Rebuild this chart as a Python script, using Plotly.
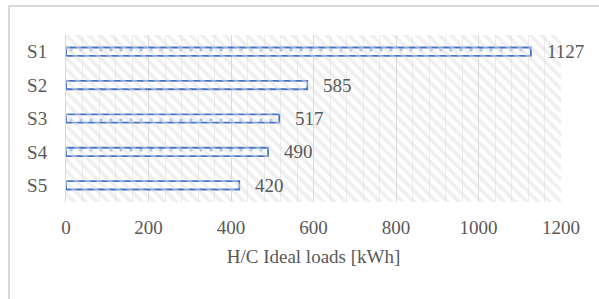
import plotly.graph_objects as go

categories = ["S1", "S2", "S3", "S4", "S5"]
values = [1127, 585, 517, 490, 420]
x_ticks = [0, 200, 400, 600, 800, 1000, 1200]
x_title = "H/C Ideal loads [kWh]"

FONT = "Liberation Serif, Times New Roman, serif"
TXT = "#595959"
xmax = 1200
idx = list(range(len(categories)))
ylo, yhi = -0.5, len(categories) - 0.5

fig = go.Figure()

# hatched plot-area background
fig.add_trace(go.Scatter(
    x=[0, xmax, xmax, 0, 0], y=[ylo, ylo, yhi, yhi, ylo],
    mode="lines", line=dict(width=0), fill="toself",
    fillcolor="rgba(255,255,255,0)",
    fillpattern=dict(shape="\\", fgcolor="#e0e0e0", bgcolor="rgba(255,255,255,0)",
                     size=8, solidity=0.45),
    hoverinfo="skip", showlegend=False))

fig.add_trace(go.Bar(
    x=values, y=idx, orientation="h", width=0.25,
    marker=dict(color="white",
                line=dict(color="#4472C4", width=1.8),
                pattern=dict(shape=".", fgcolor="#a9c6ea", bgcolor="white",
                             size=10, solidity=0.1, fillmode="replace")),
    showlegend=False))

for v, i in zip(values, idx):
    fig.add_annotation(x=v, y=i, text=str(v), showarrow=False, xanchor="left",
                       xshift=14, font=dict(family=FONT, size=19, color=TXT))

fig.update_layout(
    width=599, height=299,
    margin=dict(l=66, r=38, t=35, b=97),
    paper_bgcolor="white", plot_bgcolor="white",
    font=dict(family=FONT, size=19, color=TXT),
    bargap=0.75,
    shapes=[dict(type="rect", xref="paper", yref="paper",
                 x0=-57 / 495, x1=1.2, y0=-0.8, y1=1 + 29 / 167,
                 line=dict(color="#d9d9d9", width=2), fillcolor="rgba(0,0,0,0)",
                 layer="below")],
)
fig.update_xaxes(range=[0, xmax], tickvals=x_ticks, showgrid=True, gridcolor="#d9d9d9",
                 gridwidth=1, zeroline=False, showline=False,
                 ticks="outside", ticklen=8, tickcolor="rgba(0,0,0,0)",
                 minor=dict(dtick=40, showgrid=True, gridcolor="#ececec", gridwidth=1),
                 title=dict(text=x_title, standoff=12, font=dict(size=19, color=TXT)))
fig.update_yaxes(range=[yhi, ylo], tickvals=idx, ticktext=categories, showgrid=False,
                 zeroline=False, showline=True, linecolor="#d9d9d9", linewidth=1,
                 ticks="outside", ticklen=14, tickcolor="rgba(0,0,0,0)")

fig.write_html("out.html", config={"displayModeBar": False},
               post_script="document.body.style.margin='0';")
